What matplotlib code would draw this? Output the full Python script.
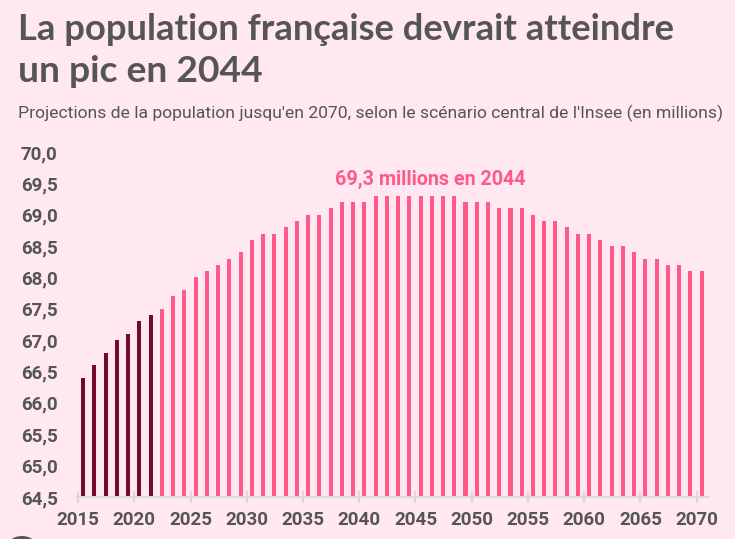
import matplotlib
matplotlib.use("Agg")
from matplotlib import pyplot as plt
from matplotlib.patches import Circle
from matplotlib.ticker import FuncFormatter, MultipleLocator

## Données (millions d'habitants)
annees = list(range(2015, 2071))
population = [66.4, 66.6, 66.8, 67.0, 67.1, 67.3, 67.4,
              67.5, 67.7, 67.8, 68.0, 68.1, 68.2, 68.3, 68.4,
              68.6, 68.7, 68.7, 68.8, 68.9, 69.0, 69.0, 69.1, 69.2, 69.2, 69.2,
              69.3, 69.3, 69.3, 69.3, 69.3, 69.3, 69.3, 69.3,
              69.2, 69.2, 69.2, 69.1, 69.1, 69.1, 69.0, 68.9, 68.9, 68.8, 68.7, 68.7,
              68.6, 68.5, 68.5, 68.4, 68.3, 68.3, 68.2, 68.2, 68.1, 68.1]
derniere_annee_observee = 2021
annee_pic = 2044
valeur_pic = 69.3
annees_ticks = [2015, 2020, 2025, 2030, 2035, 2040, 2045, 2050, 2055, 2060, 2065, 2070]

titre_l1 = "La population française devrait atteindre"
titre_l2 = "un pic en 2044"
sous_titre = "Projections de la population jusqu'en 2070, selon le scénario central de l'Insee (en millions)"

## Styles
fond = "#FFE8F2"
rose = "#FF5A87"
bordeaux = "#730A2C"
gris = "#555555"
police = ["Roboto", "DejaVu Sans"]

fig = plt.figure(figsize=(7.35, 5.39), dpi=100, facecolor=fond)
ax = fig.add_axes([0.1048, 0.0779, 0.8582, 0.6401])
ax.set_facecolor(fond)

couleurs = [bordeaux if a <= derniere_annee_observee else rose for a in annees]
# barres placées en milieu d'année
ax.bar([a + 0.45 for a in annees], [p - 64.5 for p in population], bottom=64.5,
       width=0.36, color=couleurs, zorder=2)

ax.set_ylim(64.5, 70.0)
ax.set_xlim(2014.9, 2071.0)
ax.yaxis.set_major_locator(MultipleLocator(0.5))
ax.yaxis.set_major_formatter(FuncFormatter(lambda v, p: ("%.1f" % v).replace(".", ",")))
ax.set_xticks(annees_ticks)

for s in ["top", "right", "left"]:
    ax.spines[s].set_visible(False)
ax.spines["bottom"].set_color("#D9D9D9")
ax.spines["bottom"].set_linewidth(1.5)

ax.tick_params(axis="y", length=0, pad=14)
ax.tick_params(axis="x", direction="inout", length=8, width=1.5, color="#D9D9D9", pad=6)
for lab in ax.get_xticklabels() + ax.get_yticklabels():
    lab.set_fontfamily(police)
    lab.set_fontweight("bold")
    lab.set_fontsize(13.5)
    lab.set_color(gris)

ax.text(annee_pic + 2.3, 69.47, ("%.1f millions en %d" % (valeur_pic, annee_pic)).replace(".", ","),
        ha="center", va="baseline", family=police, fontweight="bold", fontsize=14.2, color=rose)

## Titres
fig.text(0.025, 0.926, titre_l1, ha="left", va="baseline", family=["Lato", "DejaVu Sans"],
         fontweight="bold", fontsize=26.2, color=gris)
fig.text(0.025, 0.848, titre_l2, ha="left", va="baseline", family=["Lato", "DejaVu Sans"],
         fontweight="bold", fontsize=26.8, color=gris)
fig.text(0.025, 0.781, sous_titre, ha="left", va="baseline", family=police,
         fontsize=12.6, color=gris)

# pastille grise en bas à gauche
fig.patches.append(Circle((22 / 735, -8 / 539), 15 / 735, transform=fig.transFigure,
                          facecolor="#5A5557", edgecolor="none"))

fig.savefig("out.png", dpi=100, facecolor=fond)
